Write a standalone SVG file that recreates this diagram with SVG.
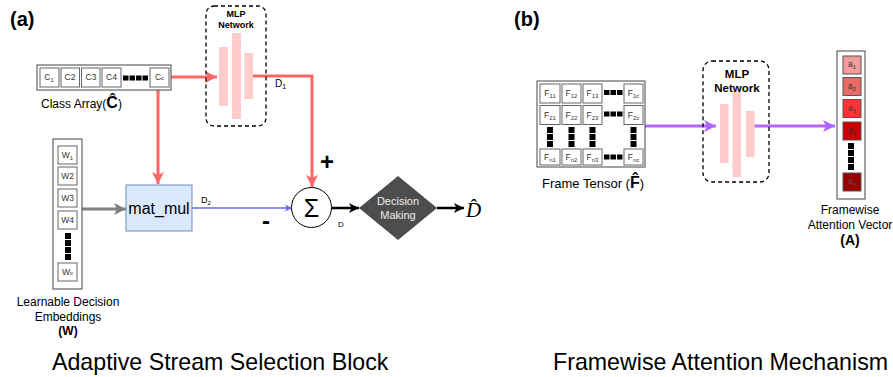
<svg xmlns="http://www.w3.org/2000/svg" width="893" height="377" viewBox="0 0 893 377">
<defs>
<style>
text{font-family:"Liberation Sans",Arial,sans-serif;fill:#000}
.cell{fill:#fff;stroke:#666;stroke-width:1}
.outer{fill:#fff;stroke:#444;stroke-width:1}
.ct{font-size:8.5px;fill:#333;text-anchor:middle}
.sub{font-size:6px}
.blk{fill:#000}
.bar{fill:#ffcccc}
.mlp{fill:none;stroke:#000;stroke-width:1.3;stroke-dasharray:4 3}
.lbl{font-size:12px;text-anchor:middle}
.title{font-size:23.2px}
.red{stroke:#ff6666;stroke-width:3;fill:none}
.pur{stroke:#b266ff;stroke-width:3;fill:none}
.blk-l{stroke:#000;stroke-width:2.5;fill:none}
</style>
<marker id="mRed" markerUnits="userSpaceOnUse" markerWidth="13" markerHeight="12" refX="12" refY="6" orient="auto"><path d="M0,0 L12,6 L0,12 L3,6 z" fill="#ff6666"/></marker>
<marker id="mGray" markerUnits="userSpaceOnUse" markerWidth="13" markerHeight="12" refX="12" refY="6" orient="auto"><path d="M0,0 L12,6 L0,12 L3,6 z" fill="#808080"/></marker>
<marker id="mBlk" markerUnits="userSpaceOnUse" markerWidth="11" markerHeight="10" refX="10" refY="5" orient="auto"><path d="M0,0 L10,5 L0,10 L2.5,5 z" fill="#000"/></marker>
<marker id="mBlue" markerUnits="userSpaceOnUse" markerWidth="8" markerHeight="7" refX="7" refY="3.5" orient="auto"><path d="M0,0 L7,3.5 L0,7 L1.8,3.5 z" fill="#6666ff"/></marker>
<marker id="mPur" markerUnits="userSpaceOnUse" markerWidth="13" markerHeight="12" refX="12" refY="6" orient="auto"><path d="M0,0 L12,6 L0,12 L3,6 z" fill="#b266ff"/></marker>
</defs>

<text x="10" y="26" font-size="20" font-weight="bold">(a)</text>
<text x="514" y="26" font-size="20" font-weight="bold">(b)</text>

<g id="connectors">
<path class="red" d="M171,77 L217,77" marker-end="url(#mRed)"/>
<path class="red" d="M253,76 L312,76 L312,187" marker-end="url(#mRed)"/>
<path class="red" d="M158,90 L158,184" marker-end="url(#mRed)"/>
<path d="M82,209 L126,209" stroke="#808080" stroke-width="3" fill="none" marker-end="url(#mGray)"/>
<path d="M192,208 L292,208" stroke="#6666ff" stroke-width="1.3" fill="none" marker-end="url(#mBlue)"/>
<path class="blk-l" d="M331,208 L359,208" marker-end="url(#mBlk)"/>
<path class="blk-l" d="M437,208 L464,208" marker-end="url(#mBlk)"/>
<path class="pur" d="M645,126 L716,126" marker-end="url(#mPur)"/>
<path class="pur" d="M754,126 L835,126" marker-end="url(#mPur)"/>
<text x="275" y="87" font-size="10">D<tspan font-size="7" dy="2">1</tspan></text>
<text x="201" y="203" font-size="9">D<tspan font-size="6" dy="2">2</tspan></text>
<text x="338" y="227" font-size="8">D</text>
<text x="320" y="170" font-size="24" font-weight="bold">+</text>
<text x="262" y="229" font-size="24" font-weight="bold">-</text>
</g>

<g id="class-array">
<rect class="outer" x="37" y="65" width="134" height="25"/>
<rect class="cell" x="40" y="68" width="19" height="19"/>
<text class="ct" x="49" y="80">C<tspan class="sub" dy="2">1</tspan></text>
<rect class="cell" x="61" y="68" width="18.5" height="19"/>
<text class="ct" x="70" y="80">C2</text>
<rect class="cell" x="81.5" y="68" width="18.5" height="19"/>
<text class="ct" x="91" y="80">C3</text>
<rect class="cell" x="102" y="68" width="19" height="19"/>
<text class="ct" x="111.5" y="80">C4</text>
<rect class="blk" x="123" y="75.5" width="5.5" height="5"/>
<rect class="blk" x="129.5" y="75.5" width="5.5" height="5"/>
<rect class="blk" x="136" y="75.5" width="5.5" height="5"/>
<rect class="blk" x="142.5" y="75.5" width="5.5" height="5"/>
<rect class="cell" x="150" y="68" width="19" height="19"/>
<text class="ct" x="159.5" y="80">C<tspan font-size="6">c</tspan></text>
<text x="41" y="108" font-size="12">Class Array(<tspan font-size="16" font-weight="bold">Ĉ</tspan>)</text>
</g>

<g id="mlp-a">
<rect class="mlp" x="206" y="6" width="60" height="120" rx="8"/>
<text x="236" y="17" font-size="9" font-weight="bold" text-anchor="middle">MLP</text>
<text x="236" y="28" font-size="9" font-weight="bold" text-anchor="middle">Network</text>
<rect class="bar" x="219" y="47" width="9" height="59"/>
<rect class="bar" x="232" y="33" width="9" height="86"/>
<rect class="bar" x="244.5" y="53" width="8.5" height="46"/>
</g>

<g id="w-embeddings">
<rect class="outer" x="53" y="139" width="29" height="150"/>
<rect class="cell" x="58" y="146" width="19" height="18"/>
<text class="ct" x="67.5" y="158">W<tspan class="sub" dy="2">1</tspan></text>
<rect class="cell" x="58" y="167" width="19" height="18"/>
<text class="ct" x="67.5" y="179">W2</text>
<rect class="cell" x="58" y="189" width="19" height="18"/>
<text class="ct" x="67.5" y="201">W3</text>
<rect class="cell" x="58" y="211" width="19" height="18"/>
<text class="ct" x="67.5" y="223">W4</text>
<rect class="blk" x="65" y="233" width="6" height="6"/>
<rect class="blk" x="65" y="240" width="6" height="6"/>
<rect class="blk" x="65" y="247" width="6" height="6"/>
<rect class="blk" x="65" y="254" width="6" height="6"/>
<rect class="cell" x="58" y="263" width="19" height="18"/>
<text class="ct" x="67.5" y="275">W<tspan font-size="6">c</tspan></text>
<text class="lbl" x="68" y="306">Learnable Decision</text>
<text class="lbl" x="68" y="321">Embeddings</text>
<text class="lbl" x="68" y="335" font-weight="bold">(W)</text>
</g>

<g id="mat-mul">
<rect x="126" y="185" width="66" height="46" fill="#dae8fc" stroke="#6c8ebf" stroke-width="1"/>
<text x="159" y="214" font-size="16" text-anchor="middle">mat_mul</text>
</g>

<g id="sum">
<circle cx="311.5" cy="207.5" r="20" fill="#fff" stroke="#000" stroke-width="1"/>
<text x="311.5" y="217" font-size="25" text-anchor="middle">Σ</text>
</g>

<g id="decision">
<polygon points="398,176 437,208 398,240 359,208" fill="#4d4d4d"/>
<text x="398" y="205" font-size="11" style="fill:#eeeeee" text-anchor="middle">Decision</text>
<text x="398" y="219" font-size="11" style="fill:#eeeeee" text-anchor="middle">Making</text>
</g>

<g id="d-hat">
<text x="466" y="217" font-size="21" font-style="italic" style="font-family:'Liberation Serif',serif">D̂</text>
</g>

<g id="frame-tensor">
<rect class="outer" x="537" y="81" width="108" height="86"/>
<rect class="cell" x="540" y="84" width="20" height="19"/>
<text class="ct" x="550" y="96">F<tspan class="sub" dy="2">11</tspan></text>
<rect class="cell" x="562" y="84" width="19" height="19"/>
<text class="ct" x="571.5" y="96">F<tspan class="sub" dy="2">12</tspan></text>
<rect class="cell" x="583" y="84" width="19" height="19"/>
<text class="ct" x="592.5" y="96">F<tspan class="sub" dy="2">13</tspan></text>
<rect class="blk" x="604" y="90" width="5.5" height="5"/>
<rect class="blk" x="610.5" y="90" width="5.5" height="5"/>
<rect class="blk" x="617" y="90" width="5.5" height="5"/>
<rect class="cell" x="624" y="84" width="19" height="19"/>
<text class="ct" x="633.5" y="96">F<tspan class="sub" dy="2">1c</tspan></text>

<rect class="cell" x="540" y="105.5" width="20" height="19"/>
<text class="ct" x="550" y="117.5">F<tspan class="sub" dy="2">21</tspan></text>
<rect class="cell" x="562" y="105.5" width="19" height="19"/>
<text class="ct" x="571.5" y="117.5">F<tspan class="sub" dy="2">22</tspan></text>
<rect class="cell" x="583" y="105.5" width="19" height="19"/>
<text class="ct" x="592.5" y="117.5">F<tspan class="sub" dy="2">23</tspan></text>
<rect class="blk" x="604" y="111.5" width="5.5" height="5"/>
<rect class="blk" x="610.5" y="111.5" width="5.5" height="5"/>
<rect class="blk" x="617" y="111.5" width="5.5" height="5"/>
<rect class="cell" x="624" y="105.5" width="19" height="19"/>
<text class="ct" x="633.5" y="117.5">F<tspan class="sub" dy="2">2c</tspan></text>

<rect class="blk" x="547" y="127" width="6" height="6"/><rect class="blk" x="547" y="134" width="6" height="6"/><rect class="blk" x="547" y="141" width="6" height="6"/>
<rect class="blk" x="568.5" y="127" width="6" height="6"/><rect class="blk" x="568.5" y="134" width="6" height="6"/><rect class="blk" x="568.5" y="141" width="6" height="6"/>
<rect class="blk" x="589.5" y="127" width="6" height="6"/><rect class="blk" x="589.5" y="134" width="6" height="6"/><rect class="blk" x="589.5" y="141" width="6" height="6"/>
<rect class="blk" x="630.5" y="127" width="6" height="6"/><rect class="blk" x="630.5" y="134" width="6" height="6"/><rect class="blk" x="630.5" y="141" width="6" height="6"/>

<rect class="cell" x="540" y="149" width="20" height="16"/>
<text class="ct" x="550" y="160">F<tspan class="sub" dy="2">n1</tspan></text>
<rect class="cell" x="562" y="149" width="19" height="16"/>
<text class="ct" x="571.5" y="160">F<tspan class="sub" dy="2">n2</tspan></text>
<rect class="cell" x="583" y="149" width="19" height="16"/>
<text class="ct" x="592.5" y="160">F<tspan class="sub" dy="2">n3</tspan></text>
<rect class="blk" x="604" y="154.5" width="5.5" height="5"/>
<rect class="blk" x="610.5" y="154.5" width="5.5" height="5"/>
<rect class="blk" x="617" y="154.5" width="5.5" height="5"/>
<rect class="cell" x="624" y="149" width="19" height="16"/>
<text class="ct" x="633.5" y="160">F<tspan class="sub" dy="2">nc</tspan></text>
<text x="542" y="188" font-size="13">Frame Tensor (<tspan font-size="16" font-weight="bold">F̂</tspan>)</text>
</g>

<g id="mlp-b">
<rect class="mlp" x="703" y="61" width="66" height="121" rx="9"/>
<text x="737" y="78" font-size="11.5" font-weight="bold" text-anchor="middle">MLP</text>
<text x="737" y="92" font-size="11.5" font-weight="bold" text-anchor="middle">Network</text>
<rect class="bar" x="720" y="104" width="8.5" height="59"/>
<rect class="bar" x="732.5" y="92" width="8.5" height="85"/>
<rect class="bar" x="746" y="111" width="8.5" height="46"/>
</g>

<g id="attention-vector">
<rect class="outer" x="837" y="51" width="28" height="148"/>
<rect x="843" y="56" width="18" height="18" fill="#f19c99" stroke="#555"/>
<text class="ct" x="852" y="67">a<tspan class="sub" dy="2">1</tspan></text>
<rect x="843" y="77.5" width="18" height="18" fill="#ea6b66" stroke="#555"/>
<text class="ct" x="852" y="88.5">a<tspan class="sub" dy="2">2</tspan></text>
<rect x="843" y="99.5" width="18" height="18" fill="#ff3333" stroke="#555"/>
<text class="ct" x="852" y="110.5">a<tspan class="sub" dy="2">3</tspan></text>
<rect x="843" y="122" width="18" height="18" fill="#cc0000" stroke="#555"/>
<text class="ct" x="852" y="133">a<tspan class="sub" dy="2">4</tspan></text>
<rect class="blk" x="848" y="143" width="6" height="6"/>
<rect class="blk" x="848" y="150" width="6" height="6"/>
<rect class="blk" x="848" y="157" width="6" height="6"/>
<rect class="blk" x="848" y="164" width="6" height="6"/>
<rect x="843" y="173" width="18" height="18" fill="#990000" stroke="#555"/>
<text class="ct" x="852" y="184" style="fill:#555">a<tspan class="sub" dy="2">n</tspan></text>
<text class="lbl" x="850" y="214">Framewise</text>
<text class="lbl" x="850" y="229">Attention Vector</text>
<text x="850" y="245" font-size="14" font-weight="bold" text-anchor="middle">(A)</text>
</g>

<text class="title" x="52" y="370">Adaptive Stream Selection Block</text>
<text class="title" x="553" y="370">Framewise Attention Mechanism</text>
</svg>
